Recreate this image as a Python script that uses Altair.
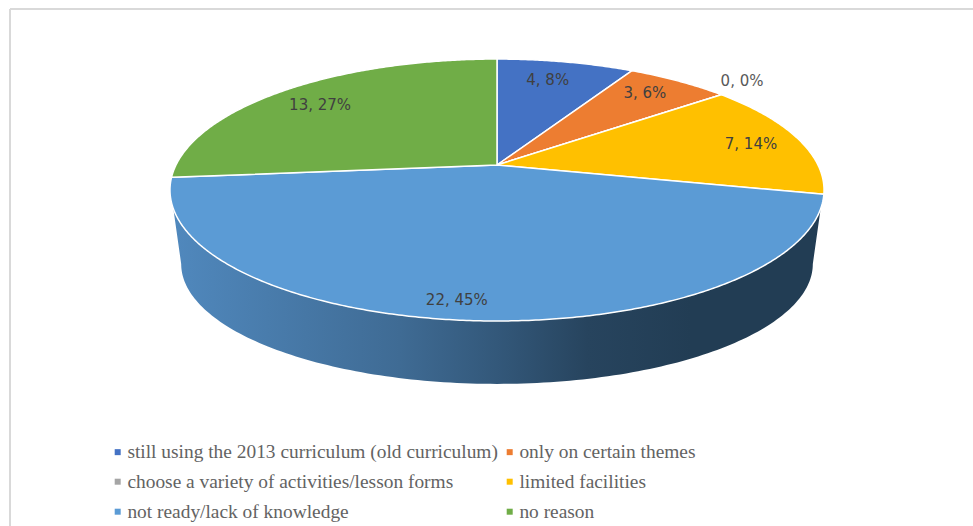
import math
import altair as alt
import pandas as pd

# Survey responses
categories = [
    "still using the 2013 curriculum (old curriculum)",
    "only on certain themes",
    "choose a variety of activities/lesson forms",
    "limited facilities",
    "not ready/lack of knowledge",
    "no reason",
]
counts = [4, 3, 0, 7, 22, 13]
colors = ["#4472c4", "#ed7d31", "#a5a5a5", "#ffc000", "#5b9bd5", "#70ad47"]

# Where each value label sits inside its slice: radial fraction and angular nudge
label_radius = [0.794, 0.823, 1.16, 0.835, 0.894, 0.80]
label_nudge = [-1.5, -1.5, -2.5, 1.0, 3.0, -1.5]
label_color = ["#404040", "#404040", "#595959", "#404040", "#404040", "#404040"]

W, H = 973, 526
CX, CY = 497, 165
TILT = 0.191


def project(theta_deg, r=1.0, sx=321.0, sy=126.2, cy=CY):
    """Perspective view of a point on a flat disc; 0 degrees is 12 o'clock."""
    t = math.radians(theta_deg)
    u, v = r * math.sin(t), -r * math.cos(t)
    w = 1 - TILT * v
    return CX + sx * u / w, cy + sy * v / w


total = sum(counts)
rows, side, labels = [], [], []
start = 0.0
for k, (name, n) in enumerate(zip(categories, counts)):
    end = start + 360.0 * n / total
    x0, y0 = project(0, 0)
    pts = [(x0, y0)]
    steps = max(int((end - start) * 2), 1)
    pts += [project(start + (end - start) * i / steps) for i in range(steps + 1)]
    pts.append((x0, y0))
    for i, (x, y) in enumerate(pts):
        rows.append({"slice": name, "i": i, "x": x, "y": y})
    mid = (start + end) / 2 + label_nudge[k]
    lx, ly = project(mid, label_radius[k])
    labels.append({
        "x": lx, "y": ly,
        "text": f"{n}, {round(100 * n / total)}%",
        "tone": label_color[k],
    })
    start = end

# Wall of the disc: upper rim followed back along the smaller lower rim
i = 0
for a in range(109, 252):
    x, y = project(a)
    side.append({"i": i, "x": x, "y": y})
    i += 1
for a in range(259, 100, -1):
    x, y = project(a, sx=310.0, sy=115.6, cy=241.0)
    side.append({"i": i, "x": x, "y": y})
    i += 1

x_scale = alt.Scale(domain=[0, W], range=[0, W], nice=False, zero=False)
y_scale = alt.Scale(domain=[0, H], range=[0, H], nice=False, zero=False)
X = alt.X("x:Q", scale=x_scale, axis=None)
Y = alt.Y("y:Q", scale=y_scale, axis=None)

wall_fill = alt.Gradient(
    gradient="linear", x1=0, x2=1, y1=0, y2=0,
    stops=[
        alt.GradientStop(color="#5088bd", offset=0),
        alt.GradientStop(color="#3f6b94", offset=0.35),
        alt.GradientStop(color="#33587a", offset=0.5),
        alt.GradientStop(color="#27445e", offset=0.64),
        alt.GradientStop(color="#223d54", offset=0.8),
        alt.GradientStop(color="#223d54", offset=1),
    ],
)

wall = alt.Chart(pd.DataFrame(side)).mark_line(
    fill=wall_fill, strokeWidth=0, stroke="#223d54"
).encode(x=X, y=Y, order="i:Q")

faces = alt.Chart(pd.DataFrame(rows)).mark_line(
    stroke="white", strokeWidth=1.5, strokeJoin="round"
).encode(
    x=X, y=Y, order="i:Q",
    fill=alt.Fill(
        "slice:N",
        scale=alt.Scale(domain=categories, range=colors),
        sort=categories,
        legend=alt.Legend(
            title=None, orient="none", legendX=108, legendY=442, columns=2,
            direction="horizontal",
            symbolType="square", symbolSize=36, symbolStrokeWidth=0,
            labelFont="Liberation Serif", labelFontSize=19.4, labelColor="#636363",
            labelLimit=500, labelOffset=0, rowPadding=9, columnPadding=2,
            padding=0,
        ),
    ),
)

text = alt.Chart(pd.DataFrame(labels)).mark_text(
    font="DejaVu Sans", fontSize=15, align="center", baseline="middle"
).encode(x=X, y=Y, text="text:N", color=alt.Color("tone:N", scale=None))

frame_top = alt.Chart(pd.DataFrame({"a": [0]})).mark_rule(color="#d9d9d9", strokeWidth=2).encode(
    x=alt.value(10), x2=alt.value(W), y=alt.value(9)
)
frame_left = alt.Chart(pd.DataFrame({"a": [0]})).mark_rule(color="#d9d9d9", strokeWidth=2).encode(
    x=alt.value(10), y=alt.value(9), y2=alt.value(H)
)

chart = alt.layer(frame_top, frame_left, wall, faces, text).properties(
    width=W, height=H, padding=0, background="white",
    autosize=alt.AutoSizeParams(type="none", contains="padding"),
).configure_view(stroke=None)

chart.save("out.html", embed_options={"renderer": "svg", "actions": False})
